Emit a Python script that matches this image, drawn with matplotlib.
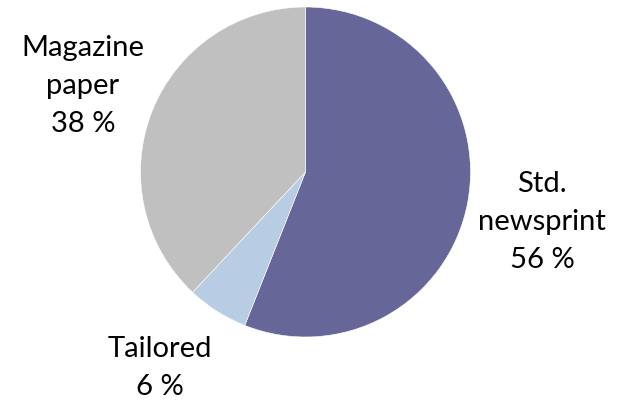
import matplotlib
matplotlib.use('Agg')
import matplotlib.pyplot as plt

# Data
categories = ['Std.\nnewsprint', 'Tailored', 'Magazine\npaper']
shares = [56, 6, 38]
colors = ['#666699', '#b8cce4', '#c0c0c0']

# label anchor points in pixel space (x, y from top)
label_pos = [(542, 222), (160, 368), (83, 86)]

W, H = 622, 401
fig = plt.figure(figsize=(W / 100, H / 100), dpi=100)
ax = fig.add_axes([0, 0, 1, 1])

ax.pie(shares, colors=colors, startangle=90, counterclock=False,
       center=(305.5, H - 172), radius=165,
       wedgeprops=dict(edgecolor='white', linewidth=0.4))

for name, val, (x, y) in zip(categories, shares, label_pos):
    ax.text(x, H - y, f"{name}\n{val} %", ha='center', va='center',
            fontsize=21, family='Lato', linespacing=1.55, color='black')

ax.set_xlim(0, W)
ax.set_ylim(0, H)
ax.set_aspect('equal')
ax.axis('off')

fig.savefig('out.png', dpi=100)
